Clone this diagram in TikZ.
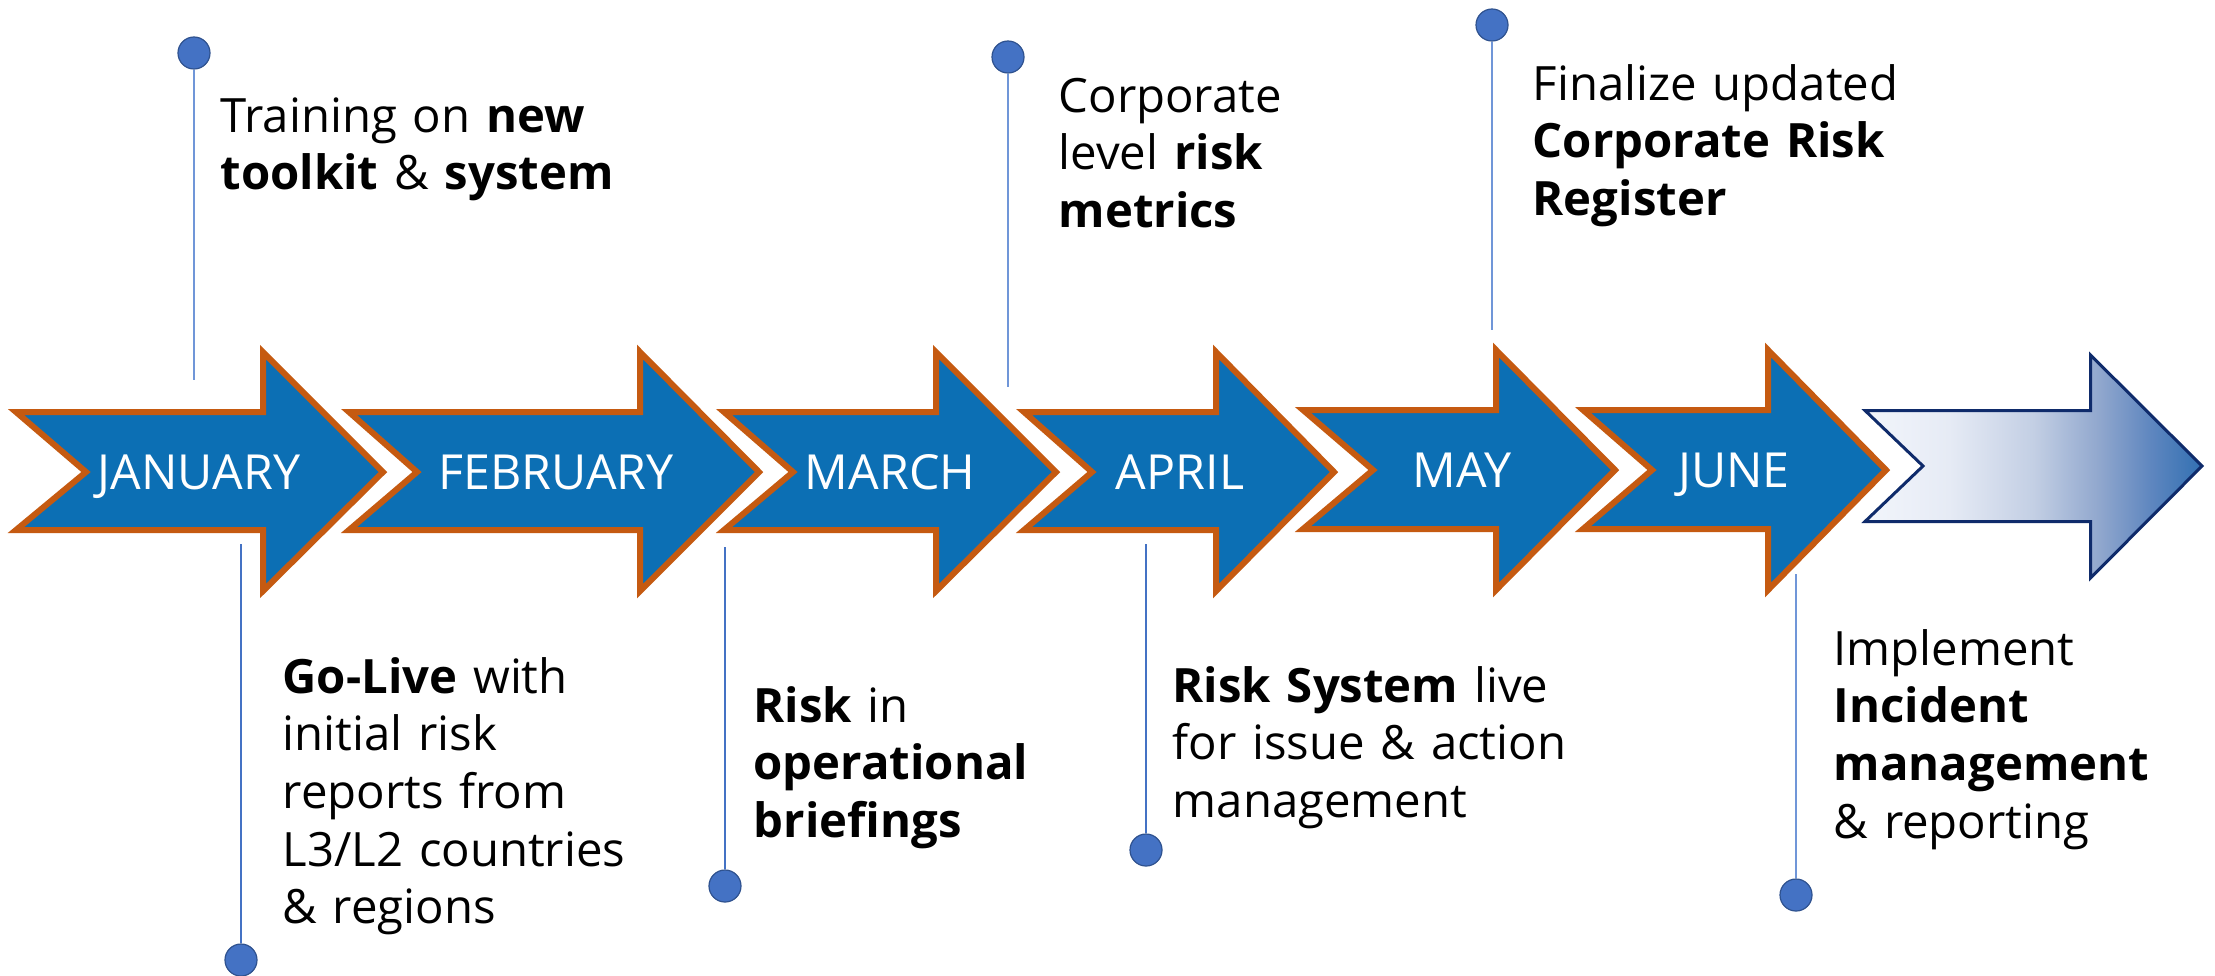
\documentclass[tikz,border=0pt]{standalone}
\usepackage{fontspec}
\setmainfont{Open Sans}
\usetikzlibrary{calc}
\definecolor{mfill}{HTML}{0C6FB4}
\definecolor{morange}{HTML}{C55A11}
\definecolor{navy}{HTML}{0F2B6B}
\definecolor{pinfill}{HTML}{4472C4}
\definecolor{pindraw}{HTML}{2F528F}
\definecolor{stemc}{HTML}{7096D8}
\definecolor{gA}{HTML}{F2F5FB}
\definecolor{gB}{HTML}{E6EBF5}
\definecolor{gC}{HTML}{C3CFE4}
\definecolor{gD}{HTML}{8FA6CD}
\definecolor{gE}{HTML}{5E86BF}
\definecolor{gF}{HTML}{3270B2}
\pgfdeclarehorizontalshading{arrowgrad}{100bp}{color(0bp)=(gA); color(25bp)=(gA); color(37.5bp)=(gB); color(50bp)=(gC); color(60bp)=(gD); color(67.5bp)=(gE); color(75bp)=(gF); color(100bp)=(gF)}
\newcommand{\bodyfont}{\fontsize{13.45pt}{16.4pt}\selectfont}
\newcommand{\monthfont}{\fontsize{13.75pt}{16.4pt}\selectfont}
\tikzset{
  monthshape/.style={fill=mfill, draw=morange, line width=0.06cm, line join=miter},
  mlabel/.style={anchor=base, text=white, font=\monthfont, inner sep=0pt},
  txt/.style={anchor=base west, inner sep=0pt, align=left, text width=6cm, font=\bodyfont},
  pinball/.style={circle, fill=pinfill, draw=pindraw, line width=0.012cm, minimum size=0.32cm, inner sep=0pt},
  stemthick/.style={draw=stemc, line width=0.02cm},
  stemthin/.style={draw=pinfill, line width=0.012cm},
}
% #1 L, #2 notch, #3 head base, #4 tip, #5 body top, #6 body bottom, #7 head top, #8 head bottom, #9 centre y
\newcommand{\marrow}[9]{%
  \draw[monthshape] ({#1+4},{#5+3}) -- ({#3+3},{#5+3}) -- ({#3+3},{#7+7}) -- ({#4-4},#9)
    -- ({#3+3},{#8-7}) -- ({#3+3},{#6-3}) -- ({#1+4},{#6-3}) -- ({#2+4},#9) -- cycle;}
\begin{document}
\begin{tikzpicture}[x=0.01cm,y=-0.01cm]
\useasboundingbox (0,0) rectangle (2215,975);

% month arrows
\marrow{12}{82}{260}{387}{409}{533}{345}{598}{472}
\marrow{345}{413}{637}{763}{409}{533}{345}{598}{472}
\marrow{720}{789}{933}{1060}{409}{533}{345}{598}{472}
\marrow{1020}{1088}{1213}{1338}{409}{533}{345}{598}{472}
\marrow{1299}{1369}{1493}{1619}{407}{532}{343}{597}{470}
\marrow{1579}{1648}{1765}{1890}{407}{532}{343}{597}{470}

% gradient arrow
\shadedraw[shading=arrowgrad, draw=navy, line width=0.03cm, line join=miter]
  (1865,410.5) -- (2090.5,410.5) -- (2090.5,355) -- (2202,466) -- (2090.5,578)
  -- (2090.5,521.5) -- (1865,521.5) -- (1923,466) -- cycle;

% month labels
\node[mlabel] (jan) at (199,489) {JANUARY};
\node[mlabel] (feb) at (556,489) {FEBRUARY};
\node[mlabel] (mar) at (890,489) {MARCH};
\node[mlabel] (apr) at (1180,489) {APRIL};
\node[mlabel] (may) at (1462,487) {MAY};
\node[mlabel] (jun) at (1734,487) {JUNE};

% pins above
\node[pinball] (p1) at (194,53) {};
\coordinate (s1) at (194,380);
\draw[stemthick] (p1) -- (s1);
\node[pinball] (p2) at (1008,57) {};
\coordinate (s2) at (1008,387);
\draw[stemthick] (p2) -- (s2);
\node[pinball] (p3) at (1492,25) {};
\coordinate (s3) at (1492,330);
\draw[stemthick] (p3) -- (s3);

% pins below
\coordinate (s4) at (241,544);
\node[pinball] (p4) at (241,960) {};
\draw[stemthin] (s4) -- (p4);
\coordinate (s5) at (725,547);
\node[pinball] (p5) at (725,886) {};
\draw[stemthin] (s5) -- (p5);
\coordinate (s6) at (1146,544);
\node[pinball] (p6) at (1146,850) {};
\draw[stemthin] (s6) -- (p6);
\coordinate (s7) at (1796,574);
\node[pinball] (p7) at (1796,895) {};
\draw[stemthick] (s7) -- (p7);

% texts
\node[txt] (t1) at (220,132) {Training on \textbf{new}\\\textbf{toolkit} \& \textbf{system}};
\node[txt] (t2) at (282,693) {\textbf{Go-Live} with\\initial risk\\reports from\\L3/L2 countries\\\& regions};
\node[txt] (t3) at (1058,112) {Corporate\\level \textbf{risk}\\\textbf{metrics}};
\node[txt] (t4) at (1532,100) {Finalize updated\\\textbf{Corporate Risk}\\\textbf{Register}};
\node[txt] (t5) at (753,722) {\textbf{Risk} in\\\textbf{operational}\\\textbf{briefings}};
\node[txt] (t6) at (1172,702) {\textbf{Risk System} live\\for issue \& action\\management};
\node[txt] (t7) at (1833,665) {Implement\\\textbf{Incident}\\\textbf{management}\\\& reporting};
\end{tikzpicture}
\end{document}
